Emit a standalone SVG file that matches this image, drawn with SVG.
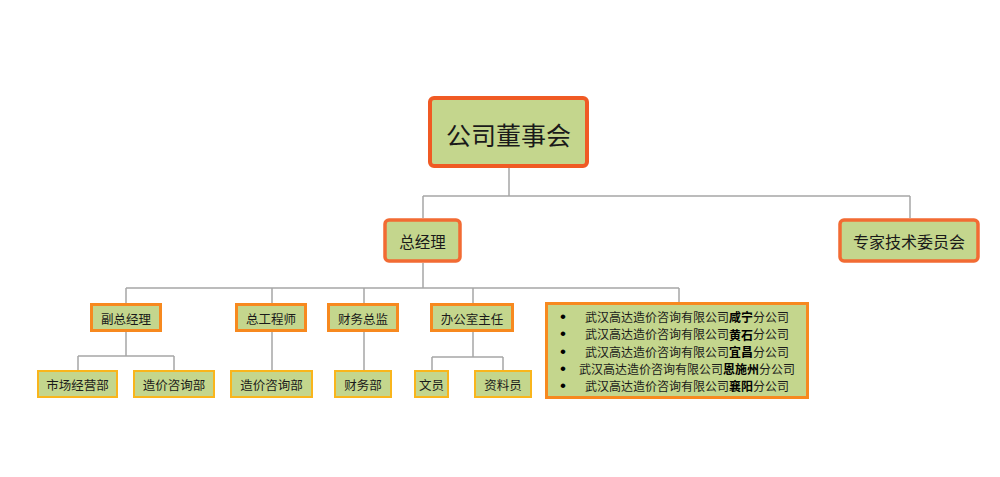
<svg xmlns="http://www.w3.org/2000/svg" width="1000" height="477" viewBox="0 0 1000 477">
<style>
text{font-family:"Noto Sans CJK SC","Liberation Sans",sans-serif;fill:#1a1a1a;text-anchor:middle;dominant-baseline:central}
.box{fill:#c4d68d}
.l1{stroke:#f05a24;stroke-width:4}
.l2{stroke:#f26b33;stroke-width:3.5}
.l3{stroke:#f7891f;stroke-width:3}
.l4{stroke:#f9b51c;stroke-width:2}
.conn{fill:none;stroke:#a6a6a6;stroke-width:1.5}
.t3{font-size:12.5px}
.bl{font-size:12px}
.dot{font-family:"Liberation Sans",sans-serif;font-size:17px;fill:#000}
.b{font-weight:bold;fill:#000}
</style>
<rect width="1000" height="477" fill="#fff"/>
<g id="connectors" class="conn">
<path d="M509,168V196M423,196H910M423,196V218M910,196V218"/>
<path d="M423,263V288M126,288H679M126,288V303M272,288V303M364,288V303M473,288V303M679,288V302"/>
<path d="M126,332V356M78,356H174M78,356V370M174,356V370"/>
<path d="M272,332V370M364,332V370"/>
<path d="M473,332V357M432,357H503M432,357V370M503,357V370"/>
</g>
<g id="board"><rect class="box l1" x="430" y="98" width="157" height="68" rx="4"/><text x="508.5" y="134" font-size="25">公司董事会</text></g>
<g id="gm"><rect class="box l2" x="385" y="220" width="75" height="41" rx="4"/><text x="422.5" y="241" font-size="15.5">总经理</text></g>
<g id="experts"><rect class="box l2" x="840" y="220" width="138" height="41" rx="4"/><text x="909" y="241" font-size="16">专家技术委员会</text></g>
<g id="vgm"><rect class="box l3" x="91.5" y="304.5" width="69" height="26"/><text class="t3" x="126" y="318">副总经理</text></g>
<g id="chief-eng"><rect class="box l3" x="236.5" y="304.5" width="69" height="26"/><text class="t3" x="271" y="318">总工程师</text></g>
<g id="cfo"><rect class="box l3" x="328.5" y="304.5" width="69" height="26"/><text class="t3" x="363" y="318">财务总监</text></g>
<g id="office"><rect class="box l3" x="431.5" y="304.5" width="81" height="26"/><text class="t3" x="472" y="318">办公室主任</text></g>
<g id="branches"><rect class="box l3" x="546.5" y="303.5" width="261" height="94"/>
<g class="bl">
<text class="dot" x="563" y="316">•</text><text x="687" y="316">武汉高达造价咨询有限公司<tspan class="b">咸宁</tspan>分公司</text>
<text class="dot" x="563" y="333.5">•</text><text x="687" y="333.5">武汉高达造价咨询有限公司<tspan class="b">黄石</tspan>分公司</text>
<text class="dot" x="563" y="351">•</text><text x="687" y="351">武汉高达造价咨询有限公司<tspan class="b">宜昌</tspan>分公司</text>
<text class="dot" x="563" y="368">•</text><text x="687" y="368">武汉高达造价咨询有限公司<tspan class="b">恩施州</tspan>分公司</text>
<text class="dot" x="563" y="385">•</text><text x="687" y="385">武汉高达造价咨询有限公司<tspan class="b">襄阳</tspan>分公司</text>
</g></g>
<g id="market"><rect class="box l4" x="38" y="371" width="79" height="26"/><text class="t3" x="77.5" y="384.5">市场经营部</text></g>
<g id="cost1"><rect class="box l4" x="134" y="371" width="80" height="26"/><text class="t3" x="174" y="384.5">造价咨询部</text></g>
<g id="cost2"><rect class="box l4" x="231" y="371" width="81" height="26"/><text class="t3" x="271.5" y="384.5">造价咨询部</text></g>
<g id="finance"><rect class="box l4" x="335" y="371" width="56" height="26"/><text class="t3" x="363" y="384.5">财务部</text></g>
<g id="clerk"><rect class="box l4" x="415" y="371" width="33" height="26"/><text class="t3" x="431.5" y="384.5">文员</text></g>
<g id="archivist"><rect class="box l4" x="475" y="371" width="56" height="26"/><text class="t3" x="503" y="384.5">资料员</text></g>
</svg>
